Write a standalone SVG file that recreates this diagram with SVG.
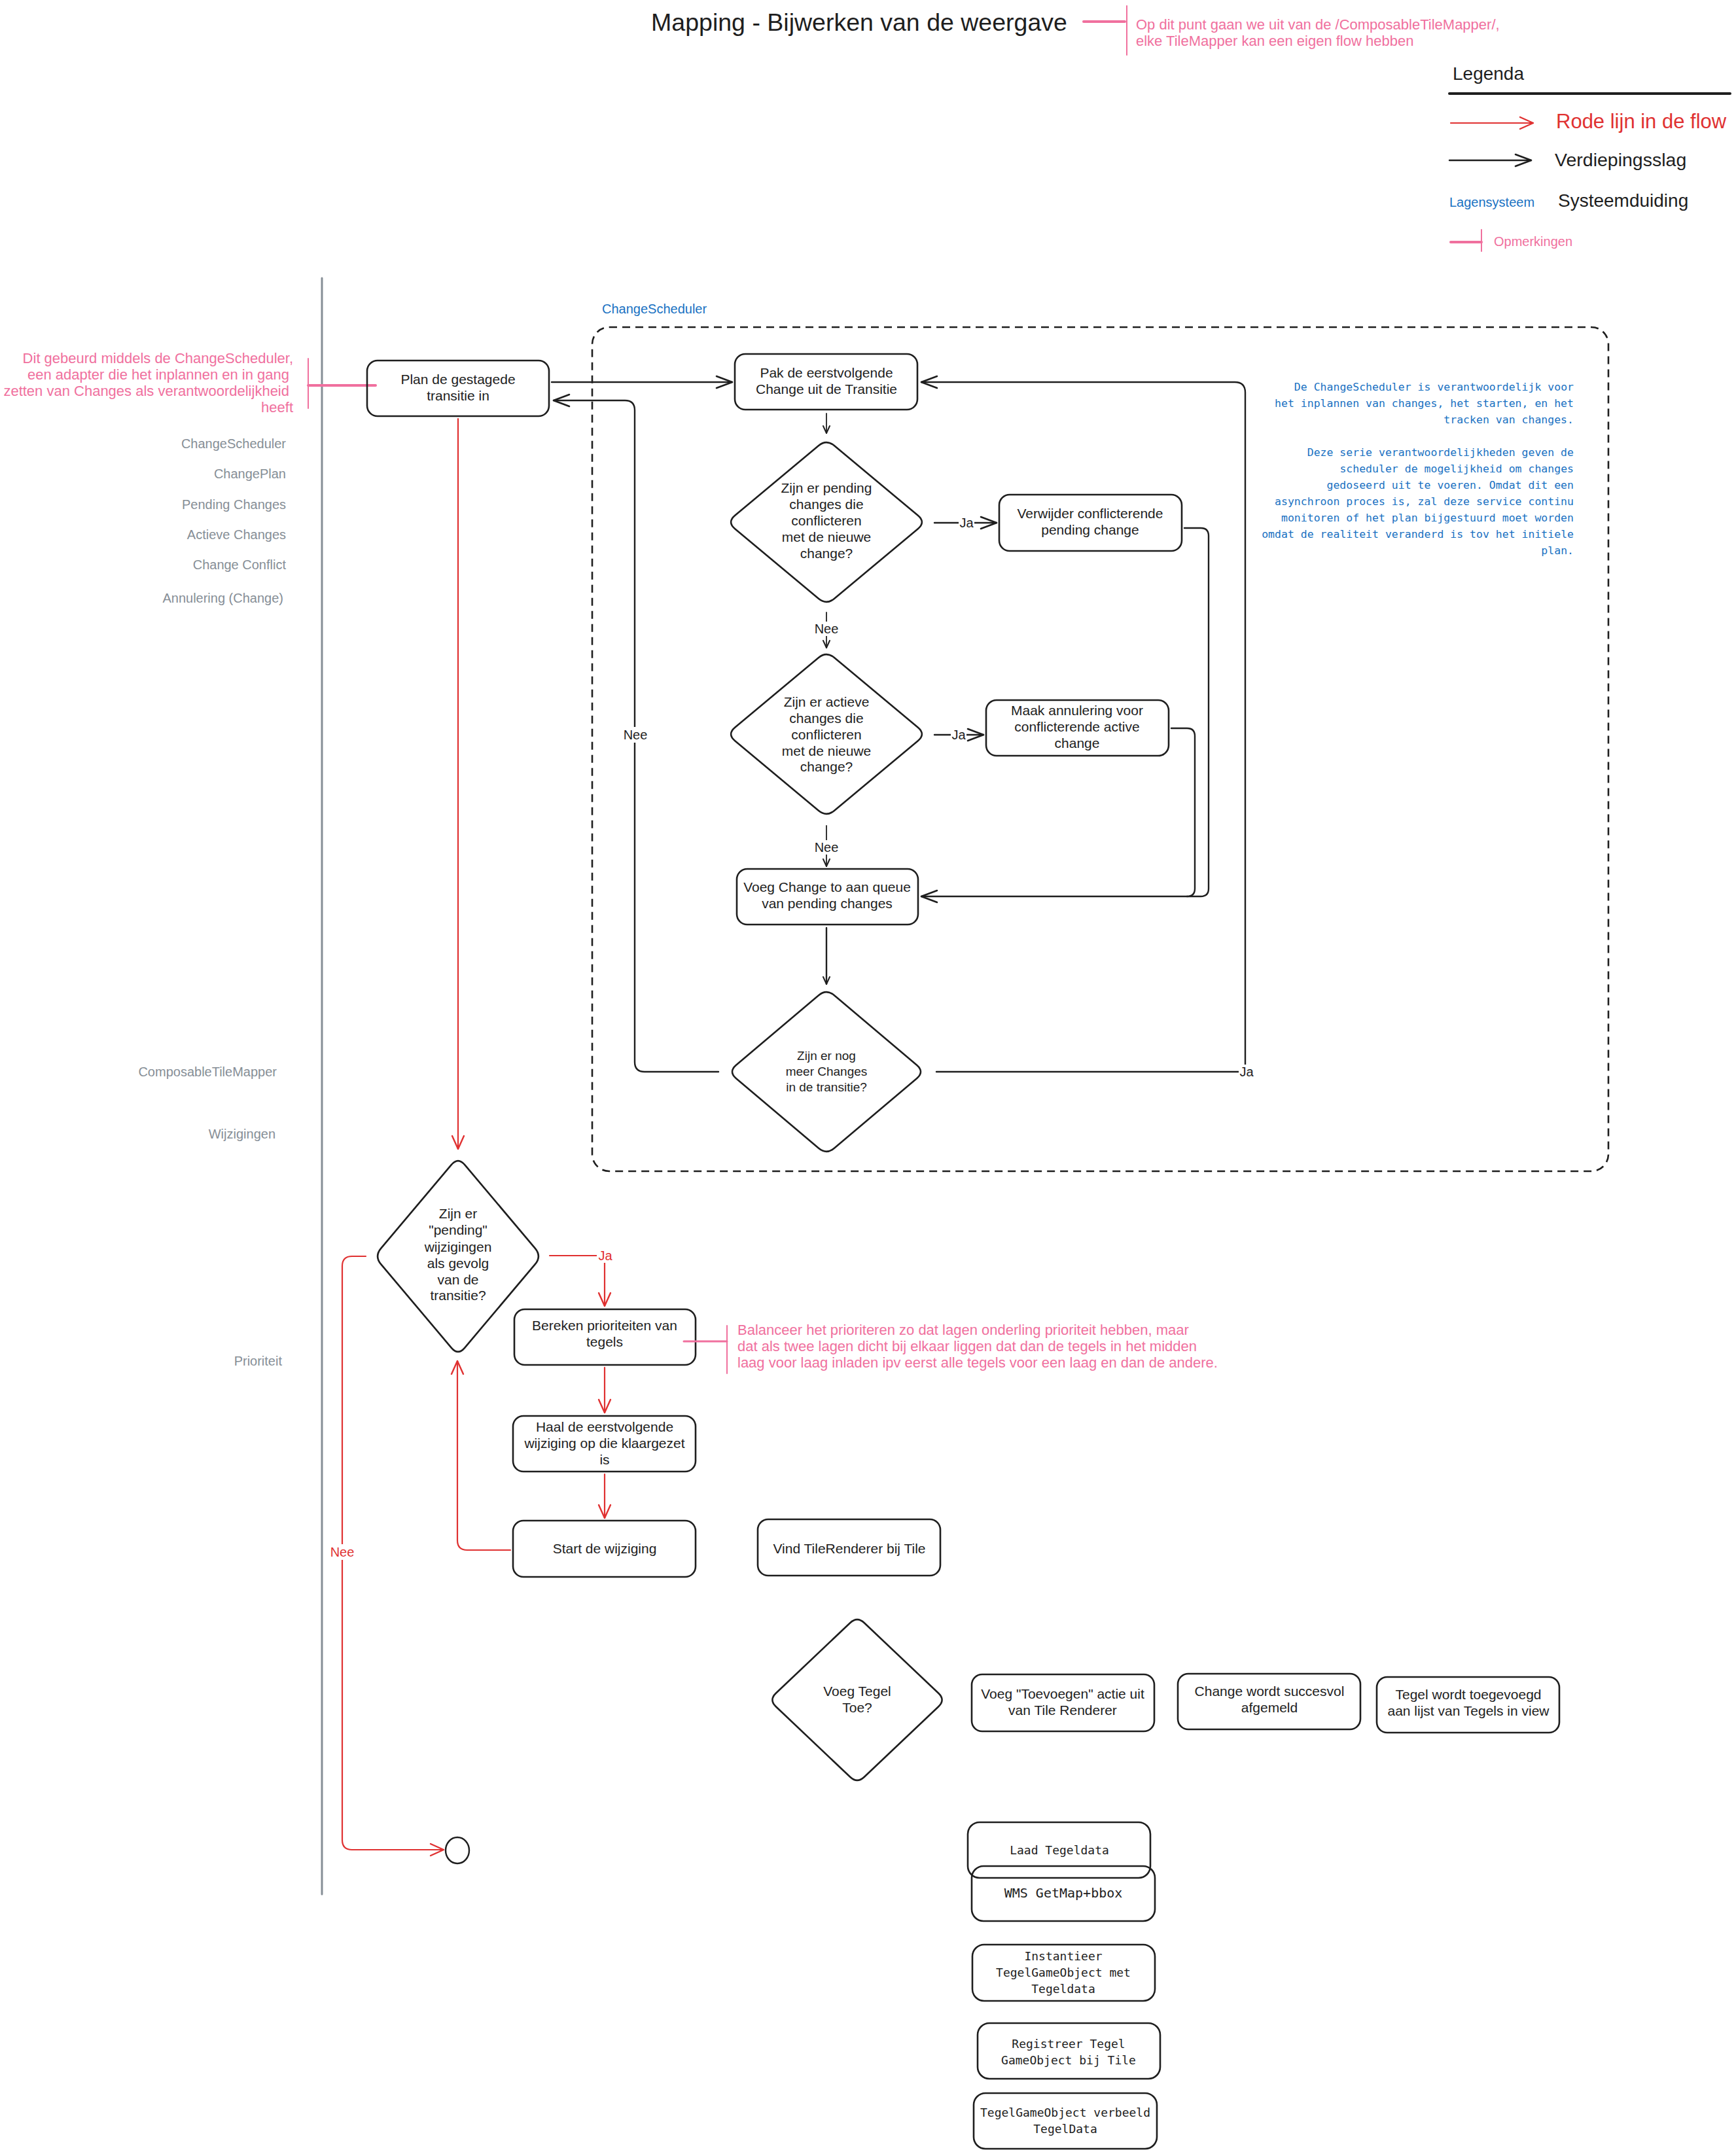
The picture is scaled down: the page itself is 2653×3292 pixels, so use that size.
<svg xmlns="http://www.w3.org/2000/svg" width="2653" height="3292" viewBox="0 0 2653 3292">
<style>
  .bg{fill:#ffffff}
  .box{fill:none;stroke:#1e1e1e;stroke-width:2.6}
  .dia{fill:none;stroke:#1e1e1e;stroke-width:2.6;stroke-linejoin:round}
  .t{font-family:"Liberation Sans",Arial,sans-serif;font-size:21px;fill:#1e1e1e;text-anchor:middle}
  .m{font-family:"DejaVu Sans Mono","Liberation Mono",monospace;font-size:18px;fill:#1e1e1e;text-anchor:middle}
  .lane{font-family:"Liberation Sans",Arial,sans-serif;font-size:20px;fill:#868e96;text-anchor:end}
  .pk{font-family:"Liberation Sans",Arial,sans-serif;font-size:22px;fill:#f0709e}
  .blue{font-family:"DejaVu Sans Mono","Liberation Mono",monospace;font-size:16.5px;fill:#1971c2;text-anchor:end}
  .bl{font-family:"Liberation Sans",Arial,sans-serif;font-size:20px;fill:#1971c2}
  .leg{font-family:"Liberation Sans",Arial,sans-serif;font-size:28px;fill:#1e1e1e}
  .k{fill:none;stroke:#1e1e1e;stroke-width:2.4;stroke-linecap:round;stroke-linejoin:round}
  .ks{fill:none;stroke:#1e1e1e;stroke-width:1.8;stroke-linecap:round}
  .r{fill:none;stroke:#e03131;stroke-width:2.2;stroke-linecap:round;stroke-linejoin:round}
  .pl{fill:none;stroke:#f0709e;stroke-linecap:round}
  .el{font-family:"Liberation Sans",Arial,sans-serif;font-size:20px;fill:#1e1e1e;text-anchor:middle}
  .elr{font-family:"Liberation Sans",Arial,sans-serif;font-size:20px;fill:#e03131;text-anchor:middle}
</style>
<defs>
  <marker id="aB" markerUnits="userSpaceOnUse" viewBox="-2 -2 30 22" markerWidth="30" markerHeight="22" refX="24" refY="9" orient="auto">
    <path d="M0,0 L24,9 L0,18" fill="none" stroke="#1e1e1e" stroke-width="2.6" stroke-linecap="round" stroke-linejoin="round"/>
  </marker>
  <marker id="aS" markerUnits="userSpaceOnUse" viewBox="-2 -2 16 14" markerWidth="16" markerHeight="14" refX="11" refY="5" orient="auto">
    <path d="M0,0 L11,5 L0,10" fill="none" stroke="#1e1e1e" stroke-width="2" stroke-linecap="round" stroke-linejoin="round"/>
  </marker>
  <marker id="aR" markerUnits="userSpaceOnUse" viewBox="-2 -2 26 22" markerWidth="26" markerHeight="22" refX="20" refY="9" orient="auto">
    <path d="M0,0 L20,9 L0,18" fill="none" stroke="#e03131" stroke-width="2.4" stroke-linecap="round" stroke-linejoin="round"/>
  </marker>
</defs>
<rect class="bg" x="0" y="0" width="2653" height="3292"/>

<!-- Title and header note -->
<g id="title">
  <text x="1313" y="47" style="font-family:'Liberation Sans',Arial,sans-serif;font-size:37.5px;fill:#1e1e1e;text-anchor:middle">Mapping - Bijwerken van de weergave</text>
</g>
<g id="title-note">
  <path class="pl" d="M1656,33 L1719,33" stroke-width="4"/>
  <path class="pl" d="M1722,9 L1722,84" stroke-width="2"/>
  <text class="pk" x="1736" y="45">Op dit punt gaan we uit van de /ComposableTileMapper/,</text>
  <text class="pk" x="1736" y="70">elke TileMapper kan een eigen flow hebben</text>
</g>

<!-- Legend -->
<g id="legend">
  <text class="leg" x="2220" y="122">Legenda</text>
  <path d="M2215,143 L2644,143" stroke="#1e1e1e" stroke-width="4" stroke-linecap="round"/>
  <path class="r" d="M2217,188 L2343,188" stroke-width="3" marker-end="url(#aR)"/>
  <text class="leg" x="2378" y="196" style="fill:#e03131;font-size:31px">Rode lijn in de flow</text>
  <path class="k" d="M2215,245 L2340,245" stroke-width="3.4" marker-end="url(#aB)"/>
  <text class="leg" x="2376" y="254" style="font-size:28.5px">Verdiepingsslag</text>
  <text class="bl" x="2215" y="316">Lagensysteem</text>
  <text class="leg" x="2381" y="316">Systeemduiding</text>
  <path class="pl" d="M2217,370 L2264,370" stroke-width="4"/>
  <path class="pl" d="M2264,351 L2264,384" stroke-width="2"/>
  <text class="pk" x="2283" y="376" style="font-size:20px">Opmerkingen</text>
</g>

<!-- Swimlane divider and lane labels -->
<g id="lanes">
  <path d="M492,425 L492,2895" stroke="#868e96" stroke-width="3" stroke-linecap="round"/>
  <text class="lane" x="437" y="685">ChangeScheduler</text>
  <text class="lane" x="437" y="731">ChangePlan</text>
  <text class="lane" x="437" y="778">Pending Changes</text>
  <text class="lane" x="437" y="824">Actieve Changes</text>
  <text class="lane" x="437" y="870">Change Conflict</text>
  <text class="lane" x="433" y="921">Annulering (Change)</text>
  <text class="lane" x="423" y="1645">ComposableTileMapper</text>
  <text class="lane" x="421" y="1740">Wijzigingen</text>
  <text class="lane" x="431" y="2087">Prioriteit</text>
</g>

<!-- Left comment -->
<g id="note-scheduler">
  <text class="pk" x="448" y="555" text-anchor="end">Dit gebeurd middels de ChangeScheduler,</text>
  <text class="pk" x="442" y="580" text-anchor="end">een adapter die het inplannen en in gang</text>
  <text class="pk" x="442" y="605" text-anchor="end">zetten van Changes als verantwoordelijkheid</text>
  <text class="pk" x="448" y="630" text-anchor="end">heeft</text>
  <path class="pl" d="M471,548 L471,624" stroke-width="2"/>
  <path class="pl" d="M471,589 L574,589" stroke-width="4"/>
</g>

<!-- ChangeScheduler container -->
<g id="changescheduler-frame">
  <text class="bl" x="920" y="479">ChangeScheduler</text>
  <rect x="905" y="500" width="1553" height="1290" rx="26" fill="none" stroke="#1e1e1e" stroke-width="2.6" stroke-dasharray="12 8"/>
</g>
<g id="changescheduler-note">
  <text class="blue" x="2405" y="597">De ChangeScheduler is verantwoordelijk voor</text>
  <text class="blue" x="2405" y="622">het inplannen van changes, het starten, en het</text>
  <text class="blue" x="2405" y="647">tracken van changes.</text>
  <text class="blue" x="2405" y="697">Deze serie verantwoordelijkheden geven de</text>
  <text class="blue" x="2405" y="722">scheduler de mogelijkheid om changes</text>
  <text class="blue" x="2405" y="747">gedoseerd uit te voeren. Omdat dit een</text>
  <text class="blue" x="2405" y="772">asynchroon proces is, zal deze service continu</text>
  <text class="blue" x="2405" y="797">monitoren of het plan bijgestuurd moet worden</text>
  <text class="blue" x="2405" y="822">omdat de realiteit veranderd is tov het initiele</text>
  <text class="blue" x="2405" y="847">plan.</text>
</g>

<!-- Connectors -->
<g id="connectors">
  <!-- black -->
  <path class="k" d="M843,584 L1119,584" marker-end="url(#aB)"/>
  <path class="k" d="M1098,1638 L985,1638 Q970,1638 970,1623 L970,627 Q970,612 955,612 L846,612" marker-end="url(#aB)"/>
  <path class="ks" d="M1263,632 L1263,662" marker-end="url(#aS)"/>
  <path class="k" d="M1428,799 L1523,799" marker-end="url(#aB)"/>
  <path class="ks" d="M1263,936 L1263,990" marker-end="url(#aS)"/>
  <path class="k" d="M1428,1123 L1503,1123" marker-end="url(#aB)"/>
  <path class="ks" d="M1263,1262 L1263,1324" marker-end="url(#aS)"/>
  <path class="k" d="M1810,807 L1835,807 Q1847,807 1847,819 L1847,1358 Q1847,1370 1835,1370 L1408,1370" marker-end="url(#aB)"/>
  <path class="k" d="M1790,1113 L1814,1113 Q1826,1113 1826,1125 L1826,1358 Q1826,1370 1814,1370"/>
  <path class="k" d="M1263,1418 L1263,1504" marker-end="url(#aS)"/>
  <path class="k" d="M1431,1638 L1903,1638 L1903,600 Q1903,584 1887,584 L1408,584" marker-end="url(#aB)"/>
  <!-- black labels -->
  <rect class="bg" x="952" y="1111" width="38" height="24"/>
  <text class="el" x="971" y="1130">Nee</text>
  <rect class="bg" x="1465" y="788" width="24" height="22"/>
  <text class="el" x="1477" y="806">Ja</text>
  <rect class="bg" x="1244" y="950" width="38" height="22"/>
  <text class="el" x="1263" y="968">Nee</text>
  <rect class="bg" x="1453" y="1112" width="24" height="22"/>
  <text class="el" x="1465" y="1130">Ja</text>
  <rect class="bg" x="1244" y="1284" width="38" height="22"/>
  <text class="el" x="1263" y="1302">Nee</text>
  <rect class="bg" x="1893" y="1627" width="24" height="22"/>
  <text class="el" x="1905" y="1645">Ja</text>
  <!-- red -->
  <path class="r" d="M700,640 L700,1756" marker-end="url(#aR)"/>
  <path class="r" d="M840,1919 L924,1919 L924,1996" marker-end="url(#aR)"/>
  <path class="r" d="M924,2090 L924,2159" marker-end="url(#aR)"/>
  <path class="r" d="M924,2253 L924,2320" marker-end="url(#aR)"/>
  <path class="r" d="M780,2369 L714,2369 Q699,2369 699,2354 L699,2080" marker-end="url(#aR)"/>
  <path class="r" d="M559,1920 L538,1920 Q523,1920 523,1935 L523,2812 Q523,2827 538,2827 L678,2827" marker-end="url(#aR)"/>
  <rect class="bg" x="912" y="1908" width="26" height="22"/>
  <text class="elr" x="925" y="1926">Ja</text>
  <rect class="bg" x="504" y="2360" width="38" height="24"/>
  <text class="elr" x="523" y="2379">Nee</text>
</g>

<!-- Nodes -->
<g id="plan-transitie">
  <rect class="box" x="561" y="551" width="278" height="85" rx="16"/>
  <text class="t" x="700" y="587">Plan de gestagede</text>
  <text class="t" x="700" y="612">transitie in</text>
</g>
<g id="pak-change">
  <rect class="box" x="1123" y="541" width="279" height="85" rx="16"/>
  <text class="t" x="1263" y="577">Pak de eerstvolgende</text>
  <text class="t" x="1263" y="602">Change uit de Transitie</text>
</g>
<g id="pending-conflict">
  <path class="dia" d="M1275.2,681.2 l127.6,106.6 q12.2,10.2 0,20.4 l-127.6,106.6 q-12.2,10.2 -24.4,0 l-127.6,-106.6 q-12.2,-10.2 0,-20.4 l127.6,-106.6 q12.2,-10.2 24.4,0 z"/>
  <text class="t" x="1263" y="753">Zijn er pending</text>
  <text class="t" x="1263" y="778">changes die</text>
  <text class="t" x="1263" y="803">conflicteren</text>
  <text class="t" x="1263" y="828">met de nieuwe</text>
  <text class="t" x="1263" y="853">change?</text>
</g>
<g id="verwijder">
  <rect class="box" x="1527" y="756" width="279" height="86" rx="16"/>
  <text class="t" x="1666" y="792">Verwijder conflicterende</text>
  <text class="t" x="1666" y="817">pending change</text>
</g>
<g id="actieve-conflict">
  <path class="dia" d="M1275.2,1005.2 l127.6,106.6 q12.2,10.2 0,20.4 l-127.6,106.6 q-12.2,10.2 -24.4,0 l-127.6,-106.6 q-12.2,-10.2 0,-20.4 l127.6,-106.6 q12.2,-10.2 24.4,0 z"/>
  <text class="t" x="1263" y="1080">Zijn er actieve</text>
  <text class="t" x="1263" y="1105">changes die</text>
  <text class="t" x="1263" y="1130">conflicteren</text>
  <text class="t" x="1263" y="1155">met de nieuwe</text>
  <text class="t" x="1263" y="1179">change?</text>
</g>
<g id="maak-annulering">
  <rect class="box" x="1507" y="1070" width="279" height="85" rx="16"/>
  <text class="t" x="1646" y="1093">Maak annulering voor</text>
  <text class="t" x="1646" y="1118">conflicterende active</text>
  <text class="t" x="1646" y="1143">change</text>
</g>
<g id="voeg-queue">
  <rect class="box" x="1126" y="1328" width="277" height="85" rx="16"/>
  <text class="t" x="1264" y="1363">Voeg Change to aan queue</text>
  <text class="t" x="1264" y="1388">van pending changes</text>
</g>
<g id="meer-changes">
  <path class="dia" d="M1275,1521.2 l126,106.6 q12,10.2 0,20.4 l-126,106.6 q-12,10.2 -24,0 l-126,-106.6 q-12,-10.2 0,-20.4 l126,-106.6 q12,-10.2 24,0 z"/>
  <text class="t" x="1263" y="1620" style="font-size:19px">Zijn er nog</text>
  <text class="t" x="1263" y="1644" style="font-size:19px">meer Changes</text>
  <text class="t" x="1263" y="1668" style="font-size:19px">in de transitie?</text>
</g>
<g id="pending-wijzigingen">
  <path class="dia" d="M710.2,1780.2 l107.6,127.6 q10.2,12.2 0,24.4 l-107.6,127.6 q-10.2,12.2 -20.4,0 l-107.6,-127.6 q-10.2,-12.2 0,-24.4 l107.6,-127.6 q10.2,-12.2 20.4,0 z"/>
  <text class="t" x="700" y="1862">Zijn er</text>
  <text class="t" x="700" y="1887">"pending"</text>
  <text class="t" x="700" y="1913">wijzigingen</text>
  <text class="t" x="700" y="1938">als gevolg</text>
  <text class="t" x="700" y="1963">van de</text>
  <text class="t" x="700" y="1987">transitie?</text>
</g>
<g id="bereken">
  <rect class="box" x="786" y="2001" width="277" height="85" rx="16"/>
  <text class="t" x="924" y="2033">Bereken prioriteiten van</text>
  <text class="t" x="924" y="2058">tegels</text>
</g>
<g id="note-prioriteit">
  <path class="pl" d="M1045,2050 L1111,2050" stroke-width="3"/>
  <path class="pl" d="M1111,2026 L1111,2099" stroke-width="2"/>
  <text class="pk" x="1127" y="2040">Balanceer het prioriteren zo dat lagen onderling prioriteit hebben, maar</text>
  <text class="pk" x="1127" y="2065">dat als twee lagen dicht bij elkaar liggen dat dan de tegels in het midden</text>
  <text class="pk" x="1127" y="2090">laag voor laag inladen ipv eerst alle tegels voor een laag en dan de andere.</text>
</g>
<g id="haal">
  <rect class="box" x="784" y="2164" width="279" height="85" rx="16"/>
  <text class="t" x="924" y="2188">Haal de eerstvolgende</text>
  <text class="t" x="924" y="2213">wijziging op die klaargezet</text>
  <text class="t" x="924" y="2238">is</text>
</g>
<g id="start">
  <rect class="box" x="784" y="2324" width="279" height="86" rx="16"/>
  <text class="t" x="924" y="2374">Start de wijziging</text>
</g>
<g id="vind">
  <rect class="box" x="1158" y="2322" width="279" height="86" rx="16"/>
  <text class="t" x="1298" y="2374">Vind TileRenderer bij Tile</text>
</g>
<g id="end">
  <ellipse cx="699" cy="2828" rx="18" ry="20" fill="none" stroke="#1e1e1e" stroke-width="2.4"/>
</g>
<g id="voeg-tegel">
  <path class="dia" d="M1320.8,2480.2 l113.4,107.6 q10.8,10.2 0,20.4 l-113.4,107.6 q-10.8,10.2 -21.6,0 l-113.4,-107.6 q-10.8,-10.2 0,-20.4 l113.4,-107.6 q10.8,-10.2 21.6,0 z"/>
  <text class="t" x="1310" y="2592">Voeg Tegel</text>
  <text class="t" x="1310" y="2617">Toe?</text>
</g>
<g id="voeg-toevoegen">
  <rect class="box" x="1485" y="2559" width="279" height="87" rx="16"/>
  <text class="t" x="1624" y="2596">Voeg "Toevoegen" actie uit</text>
  <text class="t" x="1624" y="2621">van Tile Renderer</text>
</g>
<g id="change-afgemeld">
  <rect class="box" x="1800" y="2558" width="279" height="85" rx="16"/>
  <text class="t" x="1940" y="2592">Change wordt succesvol</text>
  <text class="t" x="1940" y="2617">afgemeld</text>
</g>
<g id="tegel-toegevoegd">
  <rect class="box" x="2104" y="2563" width="279" height="85" rx="16"/>
  <text class="t" x="2244" y="2597">Tegel wordt toegevoegd</text>
  <text class="t" x="2244" y="2622">aan lijst van Tegels in view</text>
</g>
<g id="laad-tegeldata">
  <rect class="box" x="1479" y="2785" width="279" height="85" rx="18"/>
  <text class="m" x="1619" y="2834">Laad Tegeldata</text>
</g>
<g id="wms">
  <rect class="box" x="1485" y="2852" width="280" height="84" rx="18"/>
  <text class="m" x="1625" y="2900" style="font-size:20px">WMS GetMap+bbox</text>
</g>
<g id="instantieer">
  <rect class="box" x="1486" y="2972" width="279" height="86" rx="18"/>
  <text class="m" x="1625" y="2996">Instantieer</text>
  <text class="m" x="1625" y="3021">TegelGameObject met</text>
  <text class="m" x="1625" y="3046">Tegeldata</text>
</g>
<g id="registreer">
  <rect class="box" x="1494" y="3092" width="279" height="85" rx="18"/>
  <text class="m" x="1633" y="3130">Registreer Tegel</text>
  <text class="m" x="1633" y="3155">GameObject bij Tile</text>
</g>
<g id="tegelgameobject">
  <rect class="box" x="1488" y="3199" width="280" height="85" rx="18"/>
  <text class="m" x="1628" y="3235">TegelGameObject verbeeld</text>
  <text class="m" x="1628" y="3260">TegelData</text>
</g>
</svg>
